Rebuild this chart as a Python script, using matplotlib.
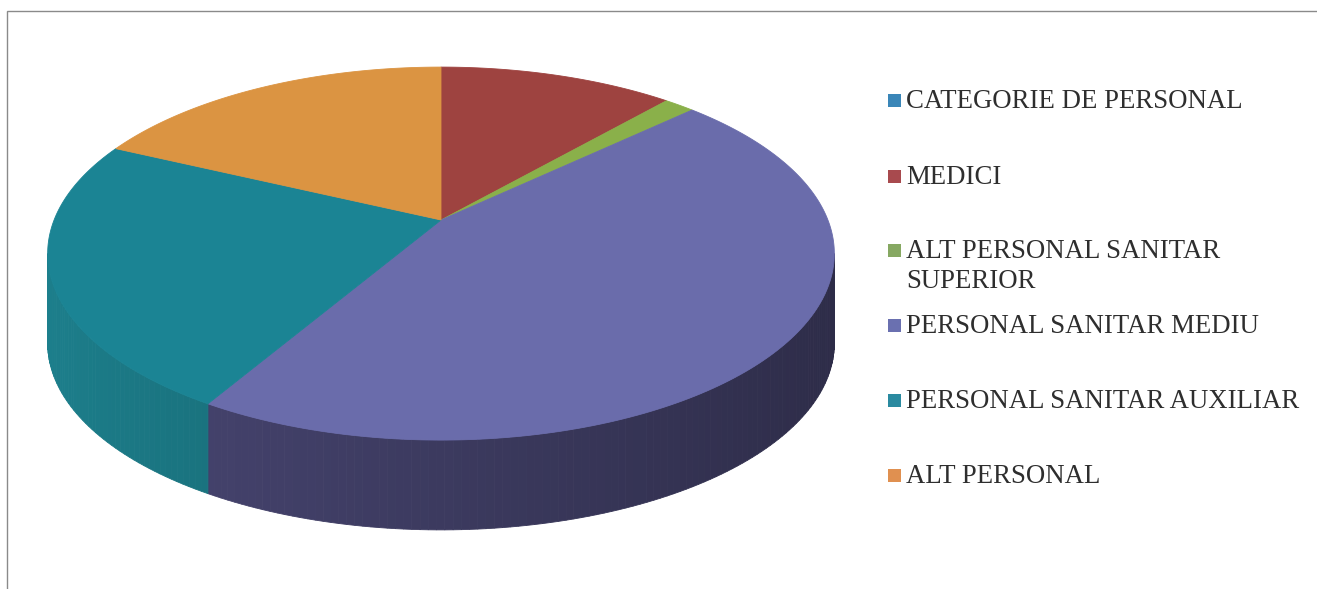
import numpy as np
import matplotlib.pyplot as plt
import matplotlib.colors as mcolors
from matplotlib.patches import Polygon, Rectangle

# Data (share of staff by category)
categories = ['CATEGORIE DE PERSONAL', 'MEDICI', 'ALT PERSONAL SANITAR\nSUPERIOR',
              'PERSONAL SANITAR MEDIU', 'PERSONAL SANITAR AUXILIAR', 'ALT PERSONAL']
values = [0, 23, 3, 91, 47, 36]

top_colors = ['#3a86b8', '#9e4340', '#8ab04a', '#6a6cab', '#1b8494', '#db9442']
side_colors = ['#2a6a90', '#6e2e2c', '#5e7a32', '#44426c', '#1a7480', '#a86e30']
legend_colors = ['#3a86b8', '#a84a4e', '#86a862', '#6a70b0', '#2a8aa0', '#e09050']

W, H = 1317, 589
fig = plt.figure(figsize=(W / 100, H / 100), dpi=100)

# perspective parameters of the 3D pie (unit = 394 px)
sx, sy, k, depth = 0.982, 0.458, 0.18, 0.228
cx_px, cy_px, unit = 441, 220, 394
xl, yt, yb = 1.02, 0.41, 0.81
ax = fig.add_axes([(cx_px - xl * unit) / W, 1 - (cy_px + yb * unit) / H,
                   2 * xl * unit / W, (yt + yb) * unit / H])
ax.set_xlim(-xl, xl)
ax.set_ylim(-yb, yt)
ax.axis('off')


def proj(t, z=0.0):
    X, Y = np.sin(t), np.cos(t)
    w = 1 + k * Y
    return np.column_stack([X * sx / w, Y * sy / w + z])


fracs = np.array(values, dtype=float) / sum(values)
bounds = np.concatenate([[0], np.cumsum(fracs)]) * 2 * np.pi

# visible front side between the two silhouette tangents
t_vis0 = np.arccos(-k)
t_vis1 = 2 * np.pi - t_vis0

for i in range(len(values)):
    t1, t2 = bounds[i], bounds[i + 1]
    a, b = max(t1, t_vis0), min(t2, t_vis1)
    if b <= a:
        continue
    ts = np.linspace(a, b, max(int(np.degrees(b - a)), 2) + 1)
    base = np.array(mcolors.to_rgb(side_colors[i]))
    for ta, tb in zip(ts[:-1], ts[1:]):
        shade = 0.8 - 0.2 * np.sin((ta + tb) / 2)
        c = np.clip(base * shade / 0.91, 0, 1)
        pts = np.vstack([proj(np.array([ta, tb])), proj(np.array([tb, ta]), -depth)])
        ax.add_patch(Polygon(pts, closed=True, facecolor=c, edgecolor=c, lw=0.6))

for i in range(len(values)):
    t1, t2 = bounds[i], bounds[i + 1]
    if t2 <= t1:
        continue
    ts = np.linspace(t1, t2, max(int(np.degrees(t2 - t1)) * 2, 4))
    pts = np.vstack([[0, 0], proj(ts)])
    ax.add_patch(Polygon(pts, closed=True, facecolor=top_colors[i],
                         edgecolor=top_colors[i], lw=0.6))

# legend drawn by hand so the marker sits on the first line of the label
row_y = [100, 176, 250, 325, 400, 475]
line_gap = 30
for lab, col, y in zip(categories, legend_colors, row_y):
    fig.add_artist(Rectangle((888 / W, 1 - (y + 6.5) / H), 13 / W, 13 / H,
                             transform=fig.transFigure, facecolor=col, edgecolor='none'))
    n_extra = lab.count('\n')
    fig.text(906 / W, 1 - (y + 8 + n_extra * line_gap) / H, lab, fontsize=19.3,
             family='Liberation Serif', color='#2e2e2e', va='baseline', ha='left',
             linespacing=1.24)

# chart frame
fig.add_artist(Rectangle((7 / W, -0.1), 1.2, 1.1 - 11 / H, transform=fig.transFigure,
                         fill=False, edgecolor='#8a8a8a', lw=1.0))

fig.savefig('out.png', dpi=100, facecolor='white')
